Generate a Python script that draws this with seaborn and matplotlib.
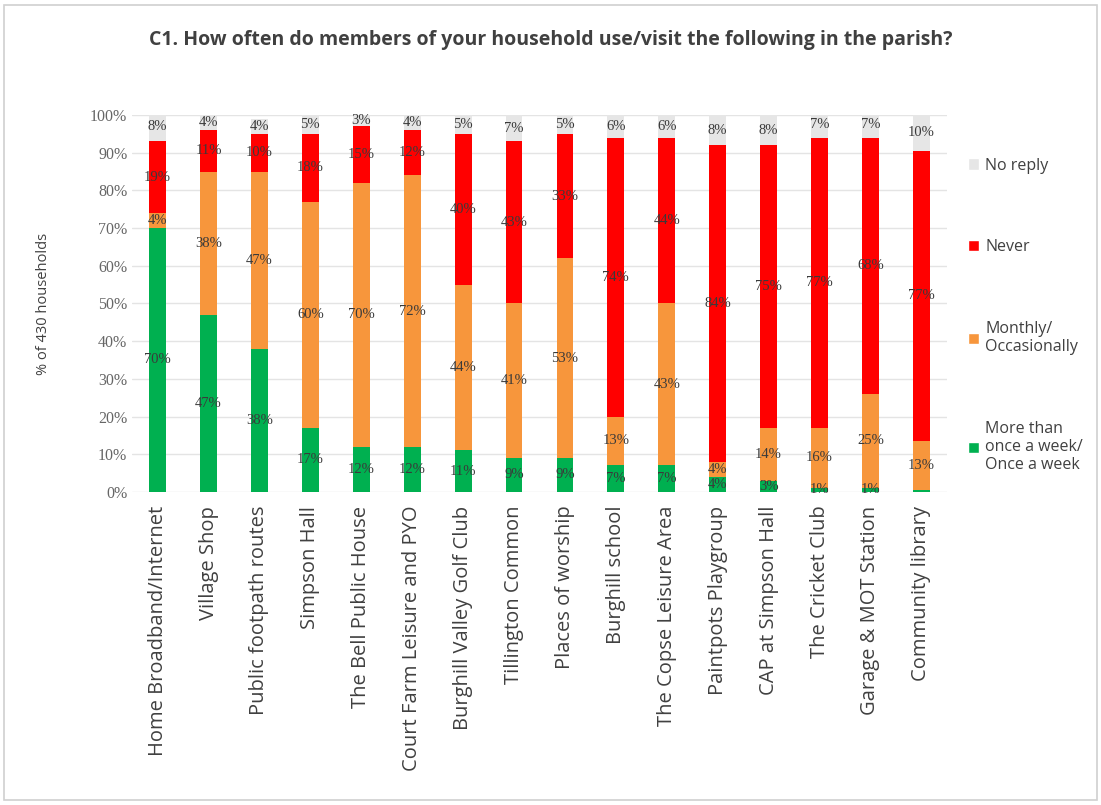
import seaborn as sns
import matplotlib.pyplot as plt
import pandas as pd
import numpy as np
from matplotlib.patches import Patch, Rectangle

# data (% of 430 households)
places = ['Home Broadband/Internet', 'Village Shop', 'Public footpath routes', 'Simpson Hall',
          'The Bell Public House', 'Court Farm Leisure and PYO', 'Burghill Valley Golf Club',
          'Tillington Common', 'Places of worship', 'Burghill school', 'The Copse Leisure Area',
          'Paintpots Playgroup', 'CAP at Simpson Hall', 'The Cricket Club', 'Garage & MOT Station',
          'Community library']
weekly = [70, 47, 38, 17, 12, 12, 11, 9, 9, 7, 7, 4, 3, 1, 1, 0.5]
monthly = [4, 38, 47, 60, 70, 72, 44, 41, 53, 13, 43, 4, 14, 16, 25, 13]
never = [19, 11, 10, 18, 15, 12, 40, 43, 33, 74, 44, 84, 75, 77, 68, 77]
no_reply = [8, 4, 4, 5, 3, 4, 5, 7, 5, 6, 6, 8, 8, 7, 7, 10]

series = ['More than\nonce a week/\nOnce a week', 'Monthly/\nOccasionally', 'Never', 'No reply']
colors = ['#00b050', '#f7963c', '#ff0000', '#e6e6e6']

df = pd.DataFrame({'Place': places, 'Weekly': weekly, 'Monthly': monthly,
                   'Never': never, 'No reply': no_reply})
cols = ['Weekly', 'Monthly', 'Never', 'No reply']

sns.set_style('white')
fig = plt.figure(figsize=(11.01, 8.05), dpi=100)
ax = fig.add_axes([0.120, 0.389, 0.740, 0.468])

bottom = np.zeros(len(df))
for col, c in zip(cols, colors):
    sns.barplot(data=df, x='Place', y=col, color=c, width=0.33, bottom=bottom,
                saturation=1, linewidth=0, ax=ax, zorder=3)
    for i, (v, b) in enumerate(zip(df[col], bottom)):
        if v >= 1:
            ax.text(i, b + v / 2, f'{v:.0f}%', ha='center', va='center', fontsize=10.5,
                    color='#3a3a3a', family='Liberation Serif', zorder=4)
    bottom = bottom + df[col].values

ax.set_ylim(0, 100)
ax.set_xlim(-0.5, len(df) - 0.5)
ax.set_yticks(range(0, 101, 10))
ax.set_yticklabels([f'{t}%' for t in range(0, 101, 10)], family='Liberation Serif',
                   fontsize=11.5, color='#666666')
ax.yaxis.grid(True, color='#e4e4e4', linewidth=1, zorder=0)
ax.set_axisbelow(True)
for s in ax.spines.values():
    s.set_visible(False)
ax.tick_params(axis='both', length=0)
ax.tick_params(axis='x', pad=10)
ax.set_xticks(range(len(df)))
ax.set_xticklabels(places, rotation=90, family='Open Sans', fontsize=14.5, color='#404040')
ax.set_xlabel('')
ax.set_ylabel('% of 430 households', family='Open Sans', fontsize=10.5, color='#404040',
              labelpad=28)

fig.text(0.50, 0.950, 'C1. How often do members of your household use/visit the following in the parish?',
         ha='center', va='center', fontsize=14, fontweight='bold', family='Open Sans',
         color='#404040')

handles = [Patch(facecolor=c) for c in colors][::-1]
fig.legend(handles, series[::-1], loc='upper left', bbox_to_anchor=(0.866, 0.822),
           frameon=False, handlelength=0.7, handleheight=0.7,
           handletextpad=0.4, labelspacing=4.1, prop={'family': 'Open Sans', 'size': 11.5},
           labelcolor='#404040')

fig.patches.append(Rectangle((0.004, 0.006), 0.992, 0.988, transform=fig.transFigure,
                             fill=False, edgecolor='#d0d0d0', linewidth=1.2))

fig.savefig('out.png', dpi=100)
